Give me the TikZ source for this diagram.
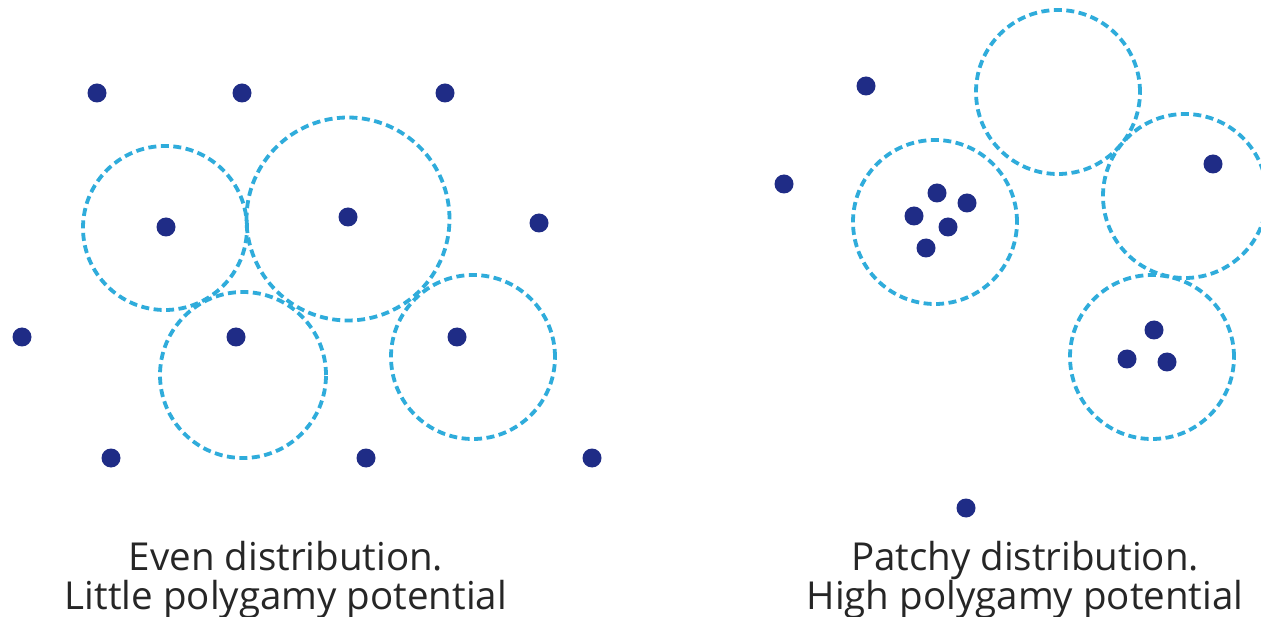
\documentclass[tikz,border=0pt]{standalone}
\usepackage{fontspec}
\setmainfont{Open Sans}
\definecolor{dotblue}{HTML}{1F2C86}
\definecolor{ringblue}{HTML}{2FACDB}
\definecolor{txt}{HTML}{262626}
\begin{document}
\begin{tikzpicture}[x=1pt,y=-1pt,
  dot/.style={circle,fill=dotblue,inner sep=0pt,minimum size=19pt},
  ring/.style={circle,draw=ringblue,line width=3.8pt,dash pattern=on 8pt off 4.5pt,inner sep=0pt,minimum size=#1},
  captext/.style={text=txt,align=center,inner sep=0pt,font=\fontsize{38.5}{39}\selectfont}]
\useasboundingbox[fill=white] (0,0) rectangle (1261,617);
% left panel rings
\node[ring=164pt] (l1) at (165,228) {};
\node[ring=203pt] (l2) at (348,219) {};
\node[ring=166pt] (l3) at (243,375) {};
\node[ring=164pt] (l4) at (473,357) {};
% left dots
\node[dot] (a1) at (97,93) {};
\node[dot] (a2) at (242,93) {};
\node[dot] (a3) at (445,93) {};
\node[dot] (a4) at (166,227) {};
\node[dot] (a5) at (348,217) {};
\node[dot] (a6) at (539,223) {};
\node[dot] (a7) at (22,337) {};
\node[dot] (a8) at (236,337) {};
\node[dot] (a9) at (457,337) {};
\node[dot] (a10) at (111,458) {};
\node[dot] (a11) at (366,458) {};
\node[dot] (a12) at (592,458) {};
% right panel rings
\node[ring=164pt] (r1) at (1058,92) {};
\node[ring=164pt] (r2) at (935,222) {};
\node[ring=164pt] (r3) at (1185,196) {};
\node[ring=164pt] (r4) at (1152,357) {};
% right dots
\node[dot] (b1) at (866,86) {};
\node[dot] (b2) at (784,184) {};
\node[dot] (b3) at (1213,164) {};
\node[dot] (b4) at (937,193) {};
\node[dot] (b5) at (967,203) {};
\node[dot] (b6) at (914,216) {};
\node[dot] (b7) at (948,227) {};
\node[dot] (b8) at (926,248) {};
\node[dot] (b9) at (1154,330) {};
\node[dot] (b10) at (1127,359) {};
\node[dot] (b11) at (1167,362) {};
\node[dot] (b12) at (966,508) {};
% captions
\node[captext] (t1) at (286,580) {Even distribution.\\Little polygamy potential};
\node[captext] (t2) at (1025,580) {Patchy distribution.\\High polygamy potential};
\end{tikzpicture}
\end{document}
